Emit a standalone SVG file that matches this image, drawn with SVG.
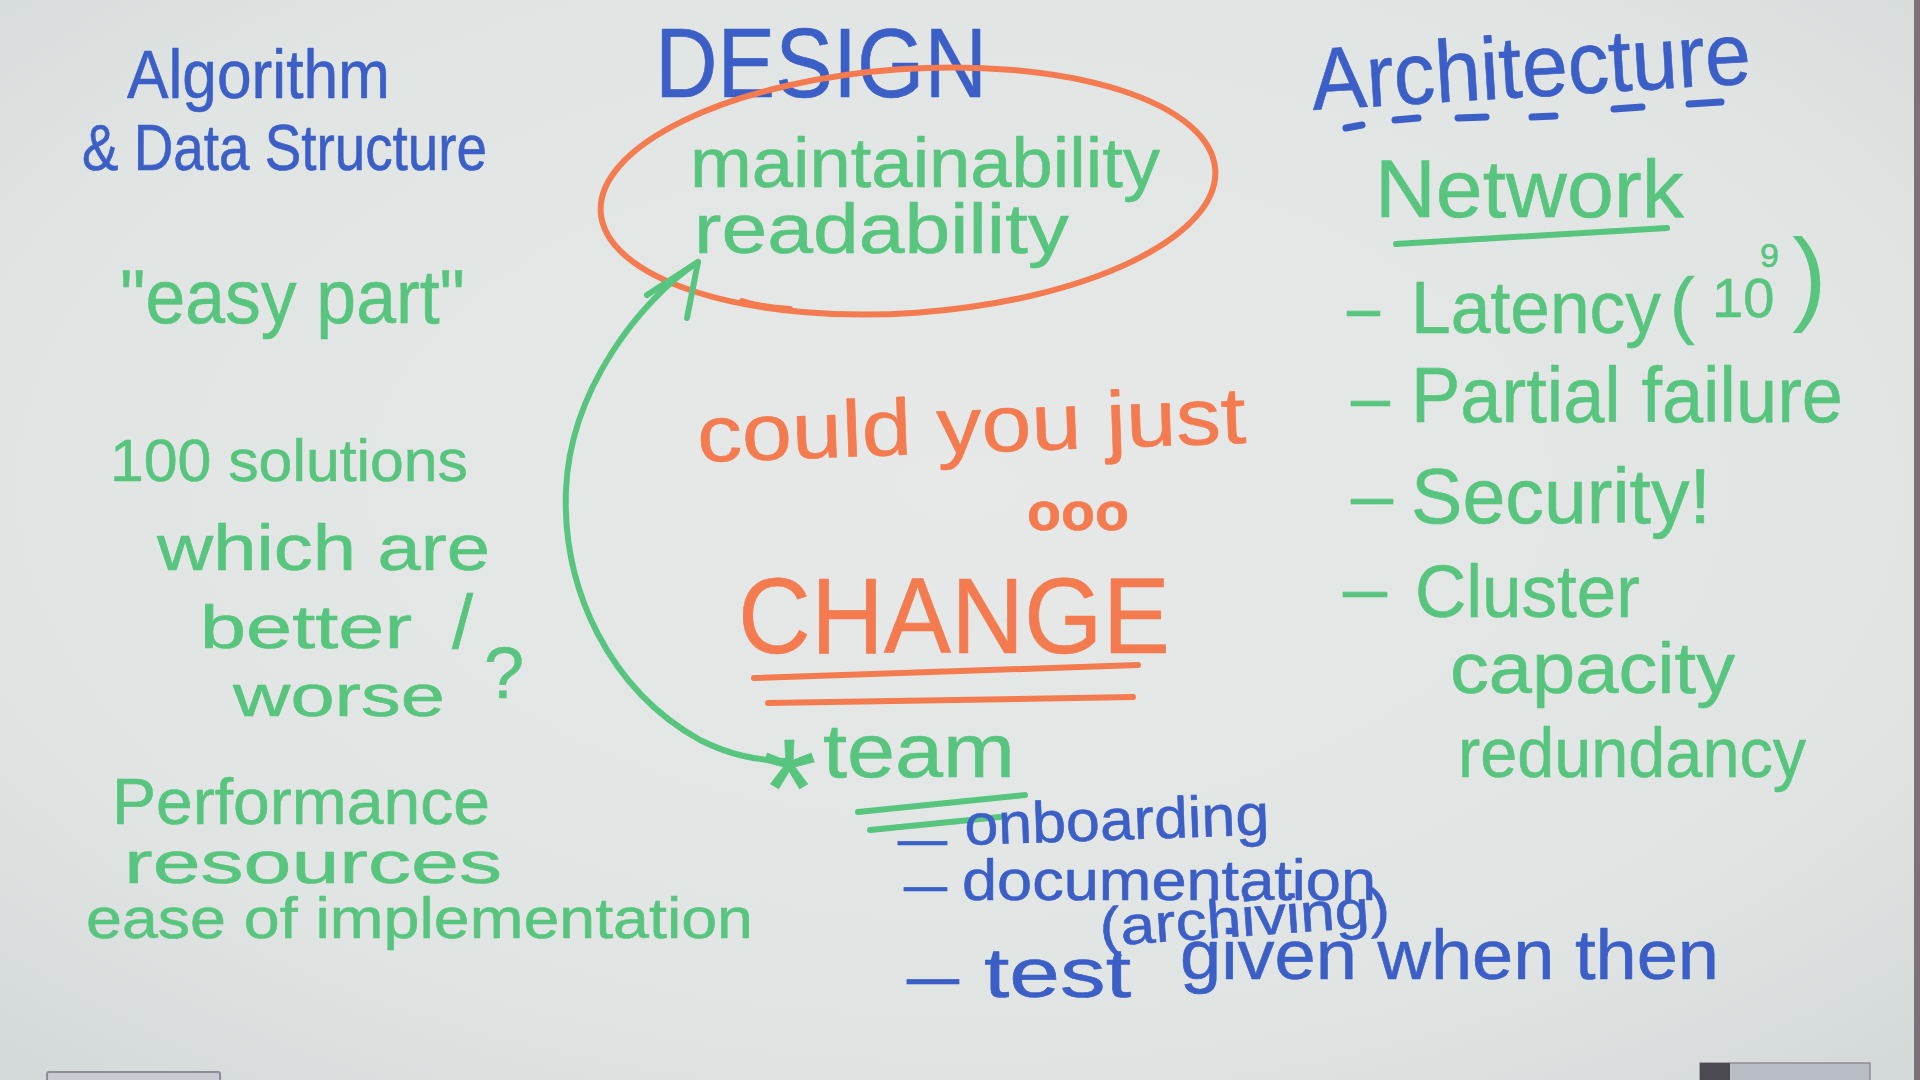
<svg xmlns="http://www.w3.org/2000/svg" width="1920" height="1080" viewBox="0 0 1920 1080">
  <defs>
    <radialGradient id="board" cx="0.5" cy="0.45" r="0.75">
      <stop offset="0" stop-color="#e6e9e8"/>
      <stop offset="0.7" stop-color="#e0e4e3"/>
      <stop offset="1" stop-color="#d3d8d8"/>
    </radialGradient>
    <style>
      text { font-family: "Liberation Sans", Arial, sans-serif; stroke-linejoin: round; }
      .b { fill: #3b5fc6; stroke: #3b5fc6; stroke-width: 0.6; }
      .g { fill: #58c57f; stroke: #58c57f; stroke-width: 0.6; }
      .o { fill: #f47b50; stroke: #f47b50; stroke-width: 0.6; }
      .mb { fill: none; stroke: #3b5fc6; stroke-width: 7; stroke-linecap: round; }
      .mg { fill: none; stroke: #58c57f; stroke-width: 6; stroke-linecap: round; stroke-linejoin: round; }
      .mo { fill: none; stroke: #f47b50; stroke-width: 6; stroke-linecap: round; }
    </style>
  </defs>

  <!-- whiteboard surface -->
  <rect width="1920" height="1080" fill="url(#board)"/>
  <rect x="1914" y="0" width="6" height="1080" fill="#7c7079"/>
  <!-- marker trays along the lower edge -->
  <rect x="47" y="1072" width="173" height="12" rx="2" fill="#c9cbd2" stroke="#8e8c96" stroke-width="2"/>
  <rect x="1700" y="1063" width="170" height="20" fill="#b9bdc6" stroke="#8e8c96" stroke-width="1.5"/>
  <rect x="1700" y="1063" width="30" height="20" fill="#4a4a50"/>

  <!-- left column -->
  <g id="algo-title">
    <text class="b" x="127" y="98" font-size="68" textLength="263" lengthAdjust="spacingAndGlyphs">Algorithm</text>
    <text class="b" x="82" y="170" font-size="64" textLength="405" lengthAdjust="spacingAndGlyphs">&amp; Data Structure</text>
  </g>

  <g id="easy-part">
    <text class="g" x="120" y="323" font-size="76" textLength="345" lengthAdjust="spacingAndGlyphs">"easy part"</text>
  </g>

  <g id="solutions">
    <text class="g" x="110" y="481" font-size="60" textLength="358" lengthAdjust="spacingAndGlyphs">100 solutions</text>
    <text class="g" x="157" y="570" font-size="64" textLength="333" lengthAdjust="spacingAndGlyphs">which are</text>
    <text class="g" x="200" y="648" font-size="62" textLength="212" lengthAdjust="spacingAndGlyphs">better</text>
    <text class="g" x="452" y="648" font-size="76">/</text>
    <text class="g" x="233" y="716" font-size="60" textLength="212" lengthAdjust="spacingAndGlyphs">worse</text>
    <text class="g" x="484" y="698" font-size="72">?</text>
  </g>

  <g id="criteria">
    <text class="g" x="112" y="824" font-size="64" textLength="378" lengthAdjust="spacingAndGlyphs">Performance</text>
    <text class="g" x="124" y="883" font-size="60" textLength="378" lengthAdjust="spacingAndGlyphs">resources</text>
    <text class="g" x="86" y="938" font-size="58" textLength="667" lengthAdjust="spacingAndGlyphs">ease of implementation</text>
  </g>

  <!-- centre column -->
  <g id="design-title">
    <text class="b" x="655" y="97" font-size="98" textLength="332" lengthAdjust="spacingAndGlyphs">DESIGN</text>
  </g>

  <g id="design-goals">
    <ellipse class="mo" cx="908" cy="191" rx="308" ry="122" transform="rotate(-4 908 191)"/>
    <path class="mo" d="M742 301 Q760 307 790 309" stroke-width="8"/>
    <text class="g" x="690" y="187" font-size="70" textLength="470" lengthAdjust="spacingAndGlyphs">maintainability</text>
    <text class="g" x="694" y="253" font-size="70" textLength="375" lengthAdjust="spacingAndGlyphs">readability</text>
  </g>

  <g id="change">
    <text class="o" x="698" y="462" font-size="80" textLength="549" lengthAdjust="spacingAndGlyphs" transform="rotate(-2 698 462)">could you just</text>
    <text class="o" x="1027" y="530" font-size="54" font-weight="bold" textLength="102" lengthAdjust="spacingAndGlyphs">ooo</text>
    <text class="o" x="738" y="653" font-size="108" textLength="432" lengthAdjust="spacingAndGlyphs">CHANGE</text>
    <path class="mo" d="M754 678 L1138 665" stroke-width="8"/>
    <path class="mo" d="M768 703 L1133 697" stroke-width="8"/>
  </g>

  <g id="team">
    <text class="g" x="762" y="836" font-size="140">*</text>
    <text class="g" x="823" y="777" font-size="76" textLength="192" lengthAdjust="spacingAndGlyphs">team</text>
    <path class="mg" d="M858 812 L1025 795"/>
    <path class="mg" d="M870 830 L1000 817"/>
    <text class="b" x="898" y="857" font-size="56" textLength="49" lengthAdjust="spacingAndGlyphs">–</text>
    <text class="b" x="965" y="845" font-size="58" textLength="305" lengthAdjust="spacingAndGlyphs" transform="rotate(-2 965 845)">onboarding</text>
    <text class="b" x="904" y="903" font-size="56" textLength="43" lengthAdjust="spacingAndGlyphs">–</text>
    <text class="b" x="962" y="900" font-size="58" textLength="414" lengthAdjust="spacingAndGlyphs">documentation</text>
    <text class="b" x="1100" y="936" font-size="54" textLength="291" lengthAdjust="spacingAndGlyphs" transform="rotate(-4 1245 930)">(archiving)</text>
    <text class="b" x="907" y="1000" font-size="70" textLength="52" lengthAdjust="spacingAndGlyphs">–</text>
    <text class="b" x="984" y="997" font-size="70" textLength="147" lengthAdjust="spacingAndGlyphs">test</text>
    <text class="b" x="1180" y="979" font-size="70" textLength="539" lengthAdjust="spacingAndGlyphs">given when then</text>
  </g>

  <!-- right column -->
  <g id="arch-title">
    <text class="b" x="1313" y="110" font-size="88" textLength="440" lengthAdjust="spacingAndGlyphs" transform="rotate(-3.5 1313 110)">Architecture</text>
    <path class="mb" d="M1346 128 L1362 125 M1395 120 L1418 118 M1458 118 L1486 117 M1532 117 L1555 116 M1614 109 L1642 107 M1689 104 L1721 102"/>
  </g>

  <g id="network">
    <text class="g" x="1375" y="217" font-size="82" textLength="309" lengthAdjust="spacingAndGlyphs">Network</text>
    <path class="mg" d="M1396 244 L1667 228"/>
    <text class="g" x="1347" y="332" font-size="72" textLength="33" lengthAdjust="spacingAndGlyphs">–</text>
    <text class="g" x="1411" y="333" font-size="74" textLength="250" lengthAdjust="spacingAndGlyphs">Latency</text>
    <text class="g"><tspan x="1670" y="330" font-size="74">(</tspan><tspan x="1712" y="317" font-size="56">10</tspan><tspan x="1760" y="267" font-size="34">9</tspan><tspan x="1792" y="311" font-size="104" stroke-width="0">)</tspan></text>
    <text class="g" x="1351" y="422" font-size="72" textLength="39" lengthAdjust="spacingAndGlyphs">–</text>
    <text class="g" x="1411" y="422" font-size="78" textLength="432" lengthAdjust="spacingAndGlyphs">Partial failure</text>
    <text class="g" x="1351" y="520" font-size="72" textLength="42" lengthAdjust="spacingAndGlyphs">–</text>
    <text class="g" x="1411" y="523" font-size="78" textLength="300" lengthAdjust="spacingAndGlyphs">Security!</text>
    <text class="g" x="1343" y="613" font-size="72" textLength="44" lengthAdjust="spacingAndGlyphs">–</text>
    <text class="g" x="1415" y="617" font-size="74" textLength="225" lengthAdjust="spacingAndGlyphs">Cluster</text>
    <text class="g" x="1450" y="693" font-size="72" textLength="285" lengthAdjust="spacingAndGlyphs">capacity</text>
    <text class="g" x="1458" y="777" font-size="70" textLength="348" lengthAdjust="spacingAndGlyphs">redundancy</text>
  </g>

  <!-- connector: from the team item up to readability -->
  <g id="connectors">
    <path class="mg" d="M785 761 C755 760 730 755 700 740 C610 690 562 590 566 490 C570 390 640 300 698 262"/>
    <path class="mg" d="M647 295 L698 262 L687 318"/>
  </g>
</svg>
